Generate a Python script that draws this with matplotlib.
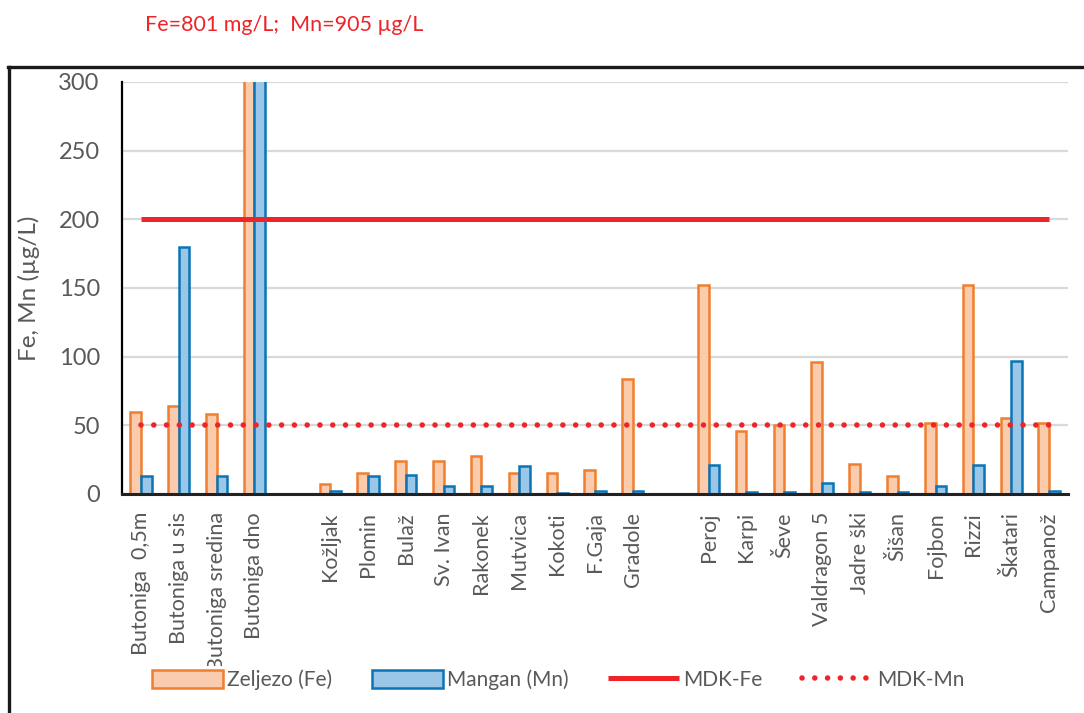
import numpy as np
import matplotlib
matplotlib.use('Agg')
import matplotlib.pyplot as plt
from matplotlib.lines import Line2D

# sampling sites, '' marks an empty slot between groups
sites = ['Butoniga  0,5m', 'Butoniga u sis', 'Butoniga sredina', 'Butoniga dno', '',
         'Kožljak', 'Plomin', 'Bulaž', 'Sv. Ivan', 'Rakonek', 'Mutvica', 'Kokoti',
         'F.Gaja', 'Gradole', '',
         'Peroj', 'Karpi', 'Ševe', 'Valdragon 5', 'Jadre ški', 'Šišan', 'Fojbon',
         'Rizzi', 'Škatari', 'Campanož']
fe = [60, 64, 58, 801, None,
      7, 15, 24, 24, 28, 15, 15, 17.5, 84, None,
      152, 46, 50.5, 96, 22, 13, 52, 152, 55, 52]
mn = [13, 180, 13, 905, None,
      2, 13, 14, 5.5, 5.5, 20.5, 1, 2, 2.5, None,
      21, 1.5, 1.5, 8, 1.5, 1.5, 5.5, 21, 97, 2.5]
mdk_fe = 200
mdk_mn = 50
yticks = [0, 50, 100, 150, 200, 250, 300]

GRAY = '#595959'
RED = '#EE2428'
plt.rcParams['font.family'] = ['Lato', 'DejaVu Sans']

fig = plt.figure(figsize=(10.84, 7.13), dpi=100)
ax = fig.add_axes([122/1084, 1-494/713, 946/1084, 412/713])

x = np.arange(len(sites))
idx = [i for i in x if sites[i] != '']
w = 0.28
b1 = ax.bar([i - w/2 for i in idx], [fe[i] for i in idx], width=w, color='#FBCBAD',
            edgecolor='#F07E2F', linewidth=1.8, label='Zeljezo (Fe)', zorder=2)
b2 = ax.bar([i + w/2 for i in idx], [mn[i] for i in idx], width=w, color='#9AC6E8',
            edgecolor='#0A74B6', linewidth=1.8, label='Mangan (Mn)', zorder=2)

l1, = ax.plot(x, [mdk_fe]*len(x), color=RED, lw=3.6, solid_capstyle='butt',
              label='MDK-Fe', zorder=3)
l2, = ax.plot(x, [mdk_mn]*len(x), color=RED, lw=4.0, linestyle=(0, (0.001, 2.3)),
              dash_capstyle='round', label='MDK-Mn', zorder=3)

ax.set_xlim(-0.5, len(sites) - 0.5)
ax.set_ylim(0, 300)
ax.set_yticks(yticks)
ax.yaxis.grid(True, color='#D9D9D9', lw=1.6, zorder=0)
ax.set_axisbelow(True)
ax.set_xticks(idx)
ax.set_xticklabels([sites[i] for i in idx], rotation=90, va='top', ha='center')
ax.tick_params(axis='x', length=0, pad=13, labelsize=15.5, labelcolor=GRAY)
ax.tick_params(axis='y', length=0, pad=16, labelsize=17, labelcolor=GRAY)
for s in ['top', 'right']:
    ax.spines[s].set_visible(False)
ax.spines['left'].set_color('black')
ax.spines['left'].set_linewidth(1.6)
ax.spines['bottom'].set_color('#222222')
ax.spines['bottom'].set_linewidth(2.2)
ax.set_ylabel('Fe, Mn (µg/L)', fontsize=17.5, color=GRAY)
ax.yaxis.set_label_coords(-0.087, 0.5)

fig.text(145/1084, 1-25/713, 'Fe=801 mg/L;  Mn=905 µg/L', color=RED,
         fontsize=15.5, ha='left', va='center')

fig.legend(handles=[b1, b2, l1, l2], loc='center',
           bbox_to_anchor=(0.515, 1-680/713), ncol=4,
           frameon=True, facecolor='white', edgecolor='none', framealpha=1,
           fontsize=15, labelcolor=GRAY, handlelength=3.4, handleheight=0.9,
           handletextpad=0.2, columnspacing=1.9, borderpad=0.2)

# outer chart frame (cut off at right and bottom)
fig.add_artist(Line2D([9/1084, 9/1084], [0, 1-67/713], color='#1a1a1a', lw=2.4,
                      transform=fig.transFigure))
fig.add_artist(Line2D([8/1084, 1], [1-67/713, 1-67/713], color='#1a1a1a', lw=2.4,
                      transform=fig.transFigure))

fig.savefig('out.png', dpi=100)
